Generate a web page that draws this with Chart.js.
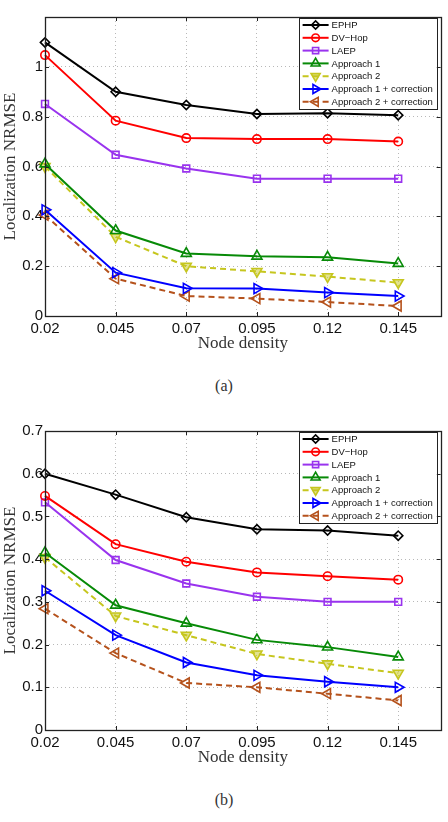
<!DOCTYPE html>
<html>
<head>
<meta charset="utf-8">
<script src="https://cdn.jsdelivr.net/npm/chart.js@4.4.0/dist/chart.umd.min.js"></script>
<style>
html,body{margin:0;padding:0;background:#fff;}
body{width:448px;height:822px;position:relative;overflow:hidden;}
.quadro{position:absolute;left:0;width:448px;height:360px;}
.legenda-fig{position:absolute;left:0;width:448px;text-align:center;font:16px "Liberation Serif","DejaVu Serif",serif;color:#333;}
</style>
</head>
<body>
<div class="quadro" style="top:0"><canvas id="graf-a" width="448" height="360"></canvas></div>
<div class="legenda-fig" style="top:377px">(a)</div>
<div class="quadro" style="top:414px"><canvas id="graf-b" width="448" height="360"></canvas></div>
<div class="legenda-fig" style="top:791px">(b)</div>

<script>
// Dados
const densidade = [0.02, 0.045, 0.07, 0.095, 0.12, 0.145];
const nomes = ['EPHP', 'DV\u2212Hop', 'LAEP', 'Approach 1', 'Approach 2',
               'Approach 1 + correction', 'Approach 2 + correction'];

// (a)
const ephpA   = [1.098, 0.90, 0.847, 0.811, 0.814, 0.806];
const dvhopA  = [1.047, 0.784, 0.714, 0.71, 0.71, 0.70];
const laepA   = [0.851, 0.647, 0.592, 0.551, 0.551, 0.551];
const apr1A   = [0.61, 0.343, 0.251, 0.24, 0.236, 0.211];
const apr2A   = [0.60, 0.318, 0.20, 0.179, 0.158, 0.134];
const apr1cA  = [0.426, 0.174, 0.111, 0.11, 0.094, 0.08];
const apr2cA  = [0.405, 0.15, 0.08, 0.07, 0.056, 0.04];
const yTicksA  = [0, 0.2, 0.4, 0.6, 0.8, 1, 1.2];
const yLabelsA = ['0', '0.2', '0.4', '0.6', '0.8', '1', ''];

// (b)
const ephpB   = [0.60, 0.551, 0.498, 0.47, 0.467, 0.455];
const dvhopB  = [0.548, 0.435, 0.394, 0.369, 0.36, 0.352];
const laepB   = [0.533, 0.398, 0.343, 0.312, 0.30, 0.30];
const apr1B   = [0.415, 0.292, 0.25, 0.211, 0.194, 0.171];
const apr2B   = [0.404, 0.267, 0.222, 0.178, 0.155, 0.133];
const apr1cB  = [0.326, 0.222, 0.158, 0.128, 0.113, 0.10];
const apr2cB  = [0.284, 0.18, 0.11, 0.10, 0.085, 0.069];
const yTicksB  = [0, 0.1, 0.2, 0.3, 0.4, 0.5, 0.6, 0.7];
const yLabelsB = ['0', '0.1', '0.2', '0.3', '0.4', '0.5', '0.6', '0.7'];

const xMax = 0.16;

// estilos das séries (mesma ordem de nomes)
const estilos = [
  { cor:'#000000', ponto:'rectRot',  raio:4.6, rot:0,   traco:[],    fundo:'rgba(0,0,0,0)' },
  { cor:'#ff0000', ponto:'circle',   raio:4.2, rot:0,   traco:[],    fundo:'rgba(0,0,0,0)' },
  { cor:'#9933ee', ponto:'rect',     raio:4.8, rot:0,   traco:[],    fundo:'rgba(0,0,0,0)' },
  { cor:'#078a07', ponto:'triangle', raio:5.8, rot:0,   traco:[],    fundo:'rgba(0,0,0,0)' },
  { cor:'#c6c61e', ponto:'triangle', raio:5.8, rot:180, traco:[6,4], fundo:'rgba(198,198,30,0.5)' },
  { cor:'#0000ff', ponto:'triangle', raio:5.8, rot:90,  traco:[],    fundo:'rgba(0,0,0,0)' },
  { cor:'#b5521c', ponto:'triangle', raio:5.8, rot:-90, traco:[6,4], fundo:'rgba(0,0,0,0)' }
];

const fonteTick = { family:'"Liberation Sans", Arial, sans-serif', size:15, lineHeight:1 };
const fonteTitulo = { family:'"Liberation Serif", "DejaVu Serif", serif', size:17, lineHeight:1.2 };

function montarSeries(series){
  return series.map((vals, i) => {
    const e = estilos[i];
    return {
      label: nomes[i],
      data: vals.map((v, k) => ({ x: densidade[k], y: v })),
      borderColor: e.cor,
      backgroundColor: e.fundo,
      borderWidth: 2,
      borderDash: e.traco,
      pointStyle: e.ponto,
      pointRadius: e.raio,
      pointRotation: e.rot,
      pointBorderWidth: 1.6,
      pointBorderColor: e.cor,
      pointBackgroundColor: e.fundo,
      tension: 0,
      clip: false
    };
  });
}

// caixa + marcas de escala para dentro (estilo MATLAB)
const moldura = {
  id: 'moldura',
  afterDatasetsDraw(chart){
    const { ctx, chartArea: a, scales } = chart;
    ctx.save();
    ctx.strokeStyle = '#222';
    ctx.lineWidth = 1;
    ctx.setLineDash([]);
    ctx.beginPath();
    for (const v of densidade) {
      const px = Math.round(scales.x.getPixelForValue(v)) + 0.5;
      ctx.moveTo(px, a.bottom); ctx.lineTo(px, a.bottom - 4);
      ctx.moveTo(px, a.top); ctx.lineTo(px, a.top + 4);
    }
    for (const t of scales.y.ticks) {
      const py = Math.round(scales.y.getPixelForValue(t.value)) + 0.5;
      ctx.moveTo(a.left, py); ctx.lineTo(a.left + 4, py);
      ctx.moveTo(a.right, py); ctx.lineTo(a.right - 4, py);
    }
    ctx.stroke();
    ctx.lineWidth = 1.3;
    ctx.strokeRect(Math.round(a.left) + 0.5, Math.round(a.top) + 0.5,
                   Math.round(a.right - a.left), Math.round(a.bottom - a.top));
    ctx.restore();
  }
};

// legenda dentro da área do gráfico, canto superior direito
const legendaMatlab = {
  id: 'legendaMatlab',
  afterDraw(chart){
    const { ctx, chartArea: a } = chart;
    const larg = 138, alt = 91, passo = 12.8;
    const x0 = a.right - larg - 4, y0 = a.top + 1;
    ctx.save();
    ctx.fillStyle = '#fff';
    ctx.fillRect(x0, y0, larg, alt);
    ctx.strokeStyle = '#222';
    ctx.lineWidth = 1;
    ctx.strokeRect(Math.round(x0) + 0.5, Math.round(y0) + 0.5, larg, alt);
    ctx.font = '9.5px "Liberation Sans", Arial, sans-serif';
    ctx.textBaseline = 'middle';
    chart.data.datasets.forEach((ds, i) => {
      const y = y0 + 7 + i * passo;
      ctx.strokeStyle = ds.borderColor;
      ctx.lineWidth = 2;
      ctx.setLineDash(ds.borderDash || []);
      ctx.beginPath();
      ctx.moveTo(x0 + 4, y); ctx.lineTo(x0 + 30, y);
      ctx.stroke();
      ctx.setLineDash([]);
      ctx.lineWidth = 1.6;
      ctx.fillStyle = ds.pointBackgroundColor;
      Chart.helpers.drawPoint(ctx, {
        pointStyle: ds.pointStyle, radius: ds.pointRadius * 0.9,
        rotation: ds.pointRotation, borderWidth: 1.6
      }, x0 + 17, y);
      ctx.fillStyle = '#111';
      ctx.fillText(ds.label, x0 + 33, y + 0.5);
    });
    ctx.restore();
  }
};

function criarGrafico(id, series, yTicks, yLabels){
  const yMax = yTicks[yTicks.length - 1];
  return new Chart(document.getElementById(id).getContext('2d'), {
    type: 'line',
    data: { datasets: montarSeries(series) },
    plugins: [moldura, legendaMatlab],
    options: {
      responsive: false,
      devicePixelRatio: 1,
      animation: false,
      layout: { padding: { top: 17, right: 7, left: 0, bottom: 0 } },
      plugins: { legend: { display: false }, tooltip: { enabled: false } },
      scales: {
        x: {
          type: 'linear',
          min: densidade[0], max: xMax,
          afterBuildTicks: s => { s.ticks = densidade.map(v => ({ value: v })); },
          afterFit: s => { s.height = 44; },
          grid: { color: '#b8b8b8', lineWidth: 1, drawTicks: false },
          border: { display: false, dash: [1, 3] },
          ticks: { color: '#111', font: fonteTick, padding: 5, maxRotation: 0, autoSkip: false,
                   callback: v => String(v) },
          title: { display: true, text: 'Node density', color: '#333', font: fonteTitulo,
                   padding: { top: 0, bottom: 6 } }
        },
        y: {
          min: 0, max: yMax,
          afterBuildTicks: s => { s.ticks = yTicks.map(v => ({ value: v })); },
          afterFit: s => { s.width = 45; },
          grid: { color: '#b8b8b8', lineWidth: 1, drawTicks: false },
          border: { display: false, dash: [1, 3] },
          ticks: { color: '#111', font: fonteTick, padding: 2,
                   callback: (v, i) => yLabels[i] },
          title: { display: true, text: 'Localization NRMSE', color: '#333', font: fonteTitulo,
                   padding: 0 }
        }
      }
    }
  });
}

criarGrafico('graf-a', [ephpA, dvhopA, laepA, apr1A, apr2A, apr1cA, apr2cA], yTicksA, yLabelsA);
criarGrafico('graf-b', [ephpB, dvhopB, laepB, apr1B, apr2B, apr1cB, apr2cB], yTicksB, yLabelsB);
</script>
</body>
</html>
